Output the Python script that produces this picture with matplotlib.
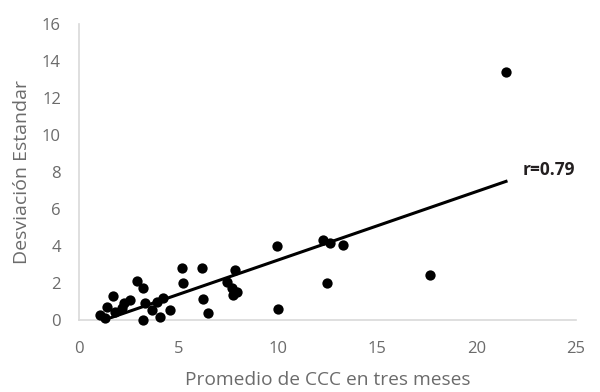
import numpy as np
import matplotlib
matplotlib.use("Agg")
import matplotlib.pyplot as plt

plt.rcParams['font.family'] = ['Open Sans', 'DejaVu Sans']

promedio_ccc = [1.06, 1.30, 1.39, 1.73, 1.81, 2.15, 2.28, 2.57, 2.90, 3.24,
                3.24, 3.32, 3.66, 3.90, 4.07, 4.24, 4.58, 5.17, 5.25, 6.17,
                6.25, 6.50, 7.43, 7.68, 7.76, 7.93, 7.85, 9.94, 10.03, 12.29,
                12.63, 13.30, 12.46, 17.66, 21.48]
desviacion = [0.27, 0.09, 0.72, 1.30, 0.45, 0.63, 0.94, 1.08, 2.13, 1.71,
              0.00, 0.90, 0.54, 0.99, 0.18, 1.17, 0.54, 2.79, 1.98, 2.79,
              1.12, 0.40, 2.07, 1.71, 1.35, 1.53, 2.70, 4.00, 0.58, 4.32,
              4.18, 4.05, 1.98, 2.43, 13.42]
x_ticks = [0, 5, 10, 15, 20, 25]
y_ticks = [0, 2, 4, 6, 8, 10, 12, 14, 16]
r_label = "r=0.79"

fig = plt.figure(figsize=(6, 3.92), dpi=100)
ax = fig.add_axes([0.1317, 0.1837, 0.8283, 0.755])

x = np.array(promedio_ccc)
y = np.array(desviacion)
ax.scatter(x, y, s=55, color='black', zorder=3, linewidths=0, clip_on=False)

m, b = np.polyfit(x, y, 1)
xl = np.array([x.min(), x.max()])
ax.plot(xl, m * xl + b, color='black', lw=2.2, zorder=2)

ax.text(22.3, 8.1, r_label, fontsize=12.5, fontweight='bold', color='#231f20',
        ha='left', va='center')

ax.set_xlim(0, 25)
ax.set_ylim(0, 16)
ax.set_xticks(x_ticks)
ax.set_yticks(y_ticks)
ax.tick_params(length=0, colors='#6b6b6b', labelsize=12)
ax.tick_params(axis='x', pad=15)
ax.tick_params(axis='y', pad=13)
for s in ['top', 'right']:
    ax.spines[s].set_visible(False)
for s in ['left', 'bottom']:
    ax.spines[s].set_color('#d9d9d9')
    ax.spines[s].set_linewidth(1.2)
ax.set_xlabel('Promedio de CCC en tres meses', fontsize=13.8, color='#6b6b6b', labelpad=10)
ax.set_ylabel('Desviación Estandar', fontsize=14, color='#6b6b6b', labelpad=8)

fig.savefig('out.png', dpi=100)
